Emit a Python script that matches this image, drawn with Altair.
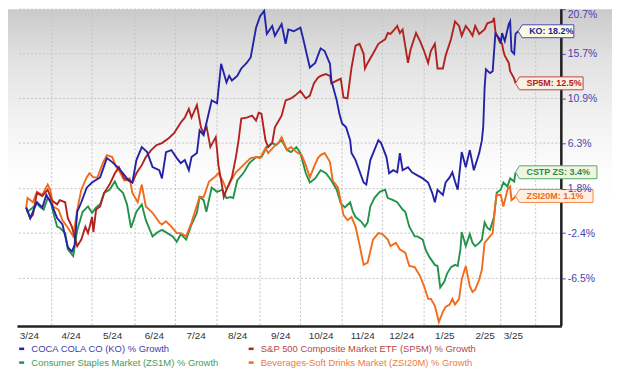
import altair as alt
import pandas as pd

START = "2024-03-13"

series_names = [
    "COCA COLA CO (KO) % Growth",
    "S&P 500 Composite Market ETF (SP5M) % Growth",
    "Consumer Staples Market (ZS1M) % Growth",
    "Beverages-Soft Drinks Market (ZSI20M) % Growth",
]
short_names = ["KO", "SP5M", "CSTP ZS", "ZSI20M"]

# days since START, growth in %
ko_days = [0,3,8,12,15,19,23,27,31,34,36,38,41,45,49,55,60,64,68,72,75,79,82,86,90,94,99,101,104,108,112,115,118,121,123,127,129,132,134,138,142,145,149,151,153,157,160,164,167,171,174,177,179,183,185,190,193,195,199,204,206,211,215,219,222,226,227,231,233,235,238,241,242,245,251,253,256,262,264,268,270,273,276,278,280,284,287,291,295,299,302,304,306,310,312,315,317,319,321,324,327,330,333,337,339,340,341,342,345,347,349,352,353,354,356,359,360,361,363,364,366]
ko_vals = [0.0,-1.0,0.5,0.0,1.2,0.3,-1.0,-1.6,-3.7,-4.1,-3.5,-0.4,0.5,1.9,2.4,2.9,4.8,4.4,3.9,3.3,2.8,2.4,4.6,5.9,5.4,3.9,3.6,2.8,5.4,5.6,4.8,4.3,4.6,3.6,4.9,5.3,7.6,7.1,8.3,10.7,10.4,14.6,12.6,13.3,12.8,13.3,14.1,14.7,15.3,18.6,19.9,20.5,17.9,18.8,17.7,19.0,16.8,18.4,18.2,18.6,17.4,14.2,14.7,16.3,16.0,14.6,12.8,10.7,9.3,8.3,7.9,6.6,5.3,4.6,2.4,2.2,4.6,6.6,6.3,4.9,3.3,3.6,3.4,5.3,3.6,3.9,3.4,3.1,2.8,2.4,1.4,0.5,1.7,1.2,2.4,2.9,3.4,2.5,1.7,5.4,3.9,5.6,3.6,5.3,6.6,8.0,12.0,14.0,13.6,13.8,17.9,17.4,16.8,18.0,17.1,19.0,19.3,16.0,15.7,17.9,18.2]

sp_days = [0,3,5,8,12,16,19,23,25,29,31,34,38,41,44,46,49,50,52,55,58,62,66,69,73,77,79,82,86,89,93,97,101,106,110,115,118,121,123,127,130,132,134,137,141,142,143,145,147,149,153,156,158,160,164,168,171,173,175,178,180,183,185,190,193,197,200,204,208,211,214,217,219,223,226,227,231,234,236,239,242,245,248,251,252,254,258,262,267,269,271,274,276,278,280,284,286,290,293,296,299,301,304,306,310,312,316,319,322,324,327,330,332,334,337,341,343,347,348,349,352,354,355,356,359,360,363,364]
sp_vals = [0.0,-1.0,-0.7,1.4,1.1,1.7,0.7,0.3,0.7,0.5,-1.0,-1.8,-3.6,-3.0,-1.8,-2.4,-0.9,-2.3,-0.2,0.1,1.4,2.2,3.3,3.9,2.8,2.5,2.4,3.3,4.1,4.9,5.6,6.1,6.3,6.8,7.3,8.4,8.9,9.8,8.9,10.2,7.9,7.3,8.1,5.9,6.9,5.6,4.1,2.6,1.0,1.7,2.9,4.9,6.6,8.8,8.9,9.1,8.6,9.4,9.3,6.6,5.9,6.3,7.9,9.1,10.7,10.9,11.2,11.7,10.9,11.2,12.5,13.1,13.3,13.5,13.3,12.5,12.8,13.0,11.0,10.9,14.2,16.6,16.8,15.7,14.1,14.7,15.7,16.8,17.3,18.0,17.9,18.4,18.8,18.0,18.4,14.7,16.2,18.0,17.1,16.0,14.7,16.0,16.8,14.1,14.1,15.5,17.3,19.3,18.8,17.7,18.8,18.2,17.7,18.8,17.9,18.4,19.1,19.3,19.7,18.2,17.1,16.8,16.0,15.5,14.7,13.8,13.0,12.5]

cs_days = [0,1,5,8,10,13,16,18,20,23,25,29,31,35,38,42,46,49,52,55,58,62,66,68,72,75,78,82,86,89,94,98,101,105,109,112,115,119,123,127,129,132,134,138,142,146,149,152,154,157,162,166,171,175,179,183,186,190,194,197,201,204,208,211,215,219,223,227,231,234,237,241,243,245,249,252,254,256,259,263,267,269,273,276,280,282,285,289,291,295,297,300,304,306,308,311,313,316,319,321,323,324,327,330,332,334,337,339,341,343,345,348,350,353,355,358,360,363,364]
cs_vals = [0.0,-0.4,0.0,0.4,0.1,-0.2,0.9,0.7,-0.4,-1.8,-1.9,-2.4,-3.9,-4.5,-2.1,-0.4,0.1,-0.5,0.0,0.3,1.4,1.7,2.5,1.9,1.4,0.3,-1.9,-0.4,0.3,-1.2,-2.7,-2.3,-2.1,-2.4,-2.7,-3.2,-2.5,-3.0,-1.6,-0.5,1.0,0.7,-0.4,1.9,1.5,1.7,0.9,1.0,0.9,2.6,3.4,4.3,4.9,4.9,5.9,6.3,6.1,6.6,5.6,5.4,5.9,5.3,3.3,2.4,2.8,3.6,3.3,2.6,1.7,0.4,0.0,0.5,-0.4,-0.9,-1.3,-1.8,-1.4,0.1,0.9,1.5,1.7,0.9,0.7,0.5,-0.2,-0.4,-1.8,-2.7,-2.7,-3.0,-3.9,-4.6,-5.3,-5.4,-7.3,-6.8,-6.1,-5.5,-5.3,-5.4,-3.9,-2.3,-3.6,-2.5,-3.3,-3.6,-3.3,-3.0,-1.4,-1.9,-2.1,-0.9,1.4,1.7,2.4,2.0,2.8,2.5,3.4]

bv_days = [0,1,5,8,12,16,18,20,24,27,31,35,38,41,45,47,50,53,57,60,64,67,69,73,77,79,83,86,89,94,99,101,104,108,112,115,119,123,126,129,132,136,140,143,146,149,152,156,160,163,167,171,174,178,180,184,188,190,194,197,201,205,208,211,214,217,219,222,226,228,232,236,239,242,245,248,251,254,258,262,265,269,271,275,278,282,285,289,293,296,299,301,304,307,310,312,315,317,319,322,324,327,330,332,334,337,339,341,345,347,349,350,353,355,358,360,361,363,364]
bv_vals = [0.0,0.9,0.5,1.5,1.2,2.2,1.7,0.1,-0.2,-1.2,-1.9,-2.7,-0.2,1.7,2.9,3.3,2.9,2.9,4.3,5.1,4.9,3.9,3.6,2.6,2.8,1.4,0.5,2.2,0.1,-0.5,-1.4,-1.6,-1.3,-1.8,-2.4,-2.4,-2.7,-1.4,-0.2,1.0,1.0,2.5,2.9,3.3,2.6,1.7,2.5,3.4,3.9,4.3,4.8,4.9,4.8,5.8,5.3,5.9,6.4,6.9,5.6,5.9,5.4,5.1,4.1,2.9,3.9,4.8,5.1,5.3,4.4,2.6,1.9,-0.7,-1.2,-0.9,-1.8,-3.5,-5.3,-5.1,-3.0,-2.4,-2.5,-3.0,-3.6,-3.3,-3.9,-4.2,-5.4,-5.5,-6.3,-7.2,-8.3,-8.3,-8.9,-10.3,-9.4,-9.0,-8.8,-8.3,-8.8,-8.3,-6.6,-5.4,-7.2,-7.7,-7.5,-6.6,-5.7,-3.3,-2.7,-2.4,0.4,1.2,1.2,0.1,1.7,2.0,0.7,0.9,1.1]

ytick_vals = [20.7, 15.7, 10.9, 6.3, 1.8, -2.4, -6.5]
label_dates = ["2024-03-15", "2024-04-15", "2024-05-16", "2024-06-16", "2024-07-17",
               "2024-08-17", "2024-09-18", "2024-10-18", "2024-11-18", "2024-12-17",
               "2025-01-18", "2025-02-17", "2025-03-10"]
grid_dates = ["2024-04-01", "2024-05-01", "2024-06-02", "2024-07-02", "2024-08-02",
              "2024-09-03", "2024-10-03", "2024-11-03", "2024-12-03", "2025-01-03",
              "2025-02-03", "2025-03-01", "2025-03-27"]

# styles
line_colors = ["#2323a8", "#b2231f", "#23924a", "#f26b1d"]
legend_text_colors = ["#3d3db0", "#b44848", "#3f9c5e", "#f07a3c"]
box_text_colors = ["#23238f", "#b02424", "#2f8a4c", "#ee6a20"]
box_fills = ["#fbfbe4", "#fbf0e4", "#eef6e2", "#fdf0e2"]
box_strokes = ["#4a4ab4", "#c04444", "#58a868", "#f08848"]
box_widths = [56, 68, 82, 78]

W, H = 548, 319
all_days = [ko_days, sp_days, cs_days, bv_days]
all_vals = [ko_vals, sp_vals, cs_vals, bv_vals]

rows = []
for i in [2, 3, 1, 0]:  # draw order: green, orange, red, blue
    assert len(all_days[i]) == len(all_vals[i])
    for d, v in zip(all_days[i], all_vals[i]):
        rows.append({"series": series_names[i],
                     "date": pd.Timestamp(START) + pd.Timedelta(days=d),
                     "idx": 100.0 + v})
df = pd.DataFrame(rows)


def dt(s):
    t = pd.Timestamp(s)
    return alt.DateTime(year=t.year, month=t.month, date=t.day, hours=t.hour)


x_scale = alt.Scale(domain=[dt("2024-03-06 03:00"), dt("2025-04-15 02:00")])
y_scale = alt.Scale(type="log", domain=[89.36, 120.7], nice=False, zero=False)

xaxis = alt.Axis(values=[dt(s) for s in label_dates],
                 labelExpr="timeFormat(datum.value, '%-m/%y')",
                 grid=False, ticks=False, domain=True, domainColor="#222222",
                 domainWidth=2.5, labelColor="#333333", labelFontSize=10,
                 labelFont="Liberation Sans", labelPadding=4, title=None,
                 zindex=1, labelOverlap=False, labelFlush=False)
yaxis = alt.Axis(orient="right", values=[100.0 + v for v in ytick_vals],
                 labelExpr="(datum.value < 100 ? '-' : '') + format(abs(datum.value - 100), '.1f') + '%'",
                 grid=False, domain=False, ticks=True, tickColor="#4a4ab4",
                 tickSize=4, tickWidth=1, labelColor="#4444b0", labelFontSize=10.5,
                 labelFont="Liberation Sans", labelPadding=2, title=None, zindex=1,
                 labelFlush=True, labelOverlap=False)

color_expr = ""
for n, c in zip(series_names[:-1], legend_text_colors[:-1]):
    color_expr += f"datum.value === '{n}' ? '{c}' : "
color_expr += f"'{legend_text_colors[-1]}'"

legend = alt.Legend(orient="none", legendX=0, legendY=337, direction="horizontal",
                    columns=2, title=None, symbolType="stroke", symbolSize=25,
                    symbolStrokeWidth=2.5, labelFontSize=9.5, labelFont="Liberation Sans",
                    labelLimit=400, labelOffset=5, columnPadding=25, rowPadding=3,
                    padding=0, labelColor=alt.ExprRef(expr=color_expr), gridAlign="each")

one = pd.DataFrame({"k": [0]})

bg = alt.Chart(one).mark_rect(
    fill=alt.LinearGradient(
        gradient="linear", x1=0, x2=0, y1=0, y2=1,
        stops=[alt.GradientStop(color="#cacaca", offset=0),
               alt.GradientStop(color="#e2e2e2", offset=0.16),
               alt.GradientStop(color="#f2f2f2", offset=0.35),
               alt.GradientStop(color="#fdfdfd", offset=0.52),
               alt.GradientStop(color="#ffffff", offset=0.62)])
).encode(x=alt.value(-9), x2=alt.value(W + 51), y=alt.value(0), y2=alt.value(H))

vgrid = alt.Chart(pd.DataFrame({"date": pd.to_datetime(grid_dates)})).mark_rule(
    color="#c4c4c4", strokeDash=[2, 2], strokeWidth=1
).encode(x=alt.X("date:T", scale=x_scale, axis=xaxis))

hgrid = alt.Chart(pd.DataFrame({"idx": [100.0 + v for v in ytick_vals]})).mark_rule(
    color="#c4c4c4", strokeDash=[2, 2], strokeWidth=1
).encode(y=alt.Y("idx:Q", scale=y_scale, axis=yaxis))

border = alt.Chart(one).mark_rule(color="#1e1e1e", strokeWidth=2.5).encode(
    x=alt.value(W), y=alt.value(0), y2=alt.value(H))

lines = alt.Chart(df).mark_line(strokeWidth=1.9).encode(
    x=alt.X("date:T", scale=x_scale, axis=xaxis),
    y=alt.Y("idx:Q", scale=y_scale, axis=yaxis),
    color=alt.Color("series:N", scale=alt.Scale(domain=series_names, range=line_colors),
                    legend=legend),
)

layers = [bg, vgrid, hgrid, border, lines]

for i in range(4):
    d_last = all_days[i][-1]
    v_last = all_vals[i][-1]
    end_df = pd.DataFrame([{"date": pd.Timestamp(START) + pd.Timedelta(days=d_last),
                            "idx": 100.0 + v_last,
                            "label": f"{short_names[i]}: {v_last:.1f}%"}])
    w = box_widths[i]
    path = f"M0,0L4,-6.5L{w},-6.5L{w},6.5L4,6.5Z"
    base = alt.Chart(end_df).encode(
        x=alt.X("date:T", scale=x_scale, axis=xaxis),
        y=alt.Y("idx:Q", scale=y_scale, axis=yaxis))
    layers.append(base.mark_point(shape=path, size=4, filled=True, fill=box_fills[i],
                                  stroke=box_strokes[i], strokeWidth=1, opacity=1))
    layers.append(base.mark_text(align="left", baseline="middle", dx=11, fontSize=9,
                                 fontWeight="bold", font="Liberation Sans",
                                 color=box_text_colors[i]).encode(text="label:N"))

chart = alt.layer(*layers).properties(
    width=W, height=H,
    padding={"left": 9, "top": 0, "right": 51, "bottom": 42},
    autosize=alt.AutoSizeParams(type="none"),
    background="white",
).configure_view(stroke=None)

chart.save("out.html", embed_options={"renderer": "svg", "actions": False})
